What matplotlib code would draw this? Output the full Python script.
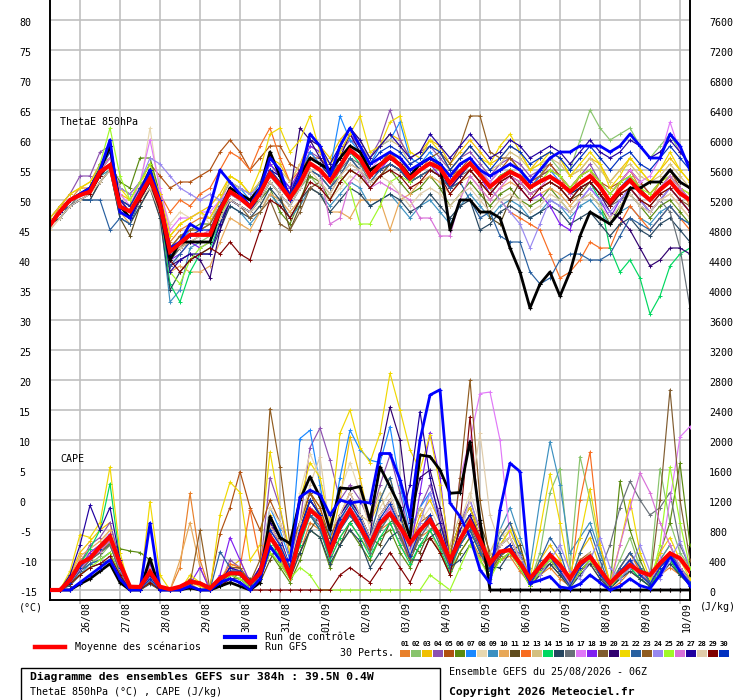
import matplotlib
matplotlib.use('Agg')
import matplotlib.pyplot as plt
import matplotlib.transforms as mtransforms
from matplotlib.lines import Line2D
from matplotlib.patches import Rectangle

plt.rcParams['font.family'] = ['DejaVu Sans Mono', 'DejaVu Sans']

# ---------------- data ----------------
steps = list(range(65))  # 6-hourly steps, 25/08 06Z -> 10/09 06Z
day_steps = [3, 7, 11, 15, 19, 23, 27, 31, 35, 39, 43, 47, 51, 55, 59, 63]
day_labels = ['26/08', '27/08', '28/08', '29/08', '30/08', '31/08', '01/09', '02/09',
              '03/09', '04/09', '05/09', '06/09', '07/09', '08/09', '09/09', '10/09']
theta_ticks = list(range(-15, 81, 5))
cape_ticks = list(range(0, 7601, 400))

member_colors = ['#e8802a', '#88c46c', '#f0c000', '#8c50b0', '#b05010', '#5a8a10',
                 '#1a88ff', '#e8d8b0', '#3c90c0', '#e8a858', '#604c1c', '#f86c20',
                 '#d4c080', '#00d860', '#264660', '#687078', '#e078f8', '#8020f0',
                 '#805c30', '#300070', '#f0d800', '#2860a0', '#905c20', '#9888f0',
                 '#a0f828', '#d870d8', '#2000a0', '#e0ccaa', '#800000', '#0030c0']
member_labels = ['%02d' % i for i in range(1, 31)]

# ThetaE 850hPa (deg C)
theta_mean = [45.8, 48.1, 50, 50.8, 51.4, 54.7, 55.8, 48.9, 48.1, 50.8, 53.6, 49.4, 41.4, 42.8, 44.2, 44.2,
              44.2, 48.3, 51.4, 50.3, 48.9, 51.1, 54.4, 52.5, 50.3, 52.8, 56.1, 55, 53.1, 55.6, 58.3, 56.9,
              54.0, 55.8, 57.2, 55.8, 53.6, 55, 56.1, 55.3, 52.8, 54.7, 56.1, 54.2, 52.2, 53.6, 54.7, 53.9,
              52.1, 53.1, 53.9, 52.8, 51.4, 52.8, 54, 52.2, 49.7, 51.7, 53.3, 51.4, 50, 51.7, 53.1, 51.1, 50]
theta_ctrl = [46, 48, 50, 51, 52, 55, 60, 48, 47, 51, 55, 50, 42, 43, 46, 45,
              49, 55, 53, 51, 49, 52, 57, 55, 50, 54, 61, 59, 54, 59, 62, 59,
              56, 57, 58, 57, 55, 56, 57, 56, 54, 56, 57, 55, 54, 55, 56, 55,
              53, 55, 57, 58, 58, 59, 59, 59, 58, 59, 61, 59, 57, 57, 61, 59, 55]
theta_gfs = [46, 48, 50, 51, 52, 55, 59, 49, 47, 51, 55, 49, 40, 43, 43, 43,
             43, 48, 52, 51, 50, 52, 58, 54, 50, 54, 57, 56, 55, 57, 59, 58,
             55, 56, 57, 56, 54, 56, 57, 56, 45, 50, 50, 48, 48, 47, 42, 38,
             32, 36, 38, 34, 38, 44, 48, 47, 46, 48, 52, 52, 53, 53, 55, 53, 52]

theta_m01 = [46, 49, 50, 52, 52, 56, 58, 50, 49, 52, 55, 50, 43, 45, 46, 47,
             47, 50, 53, 52, 51, 53, 56, 54, 52, 54, 58, 56, 54, 57, 59, 58,
             55, 56, 58, 57, 54, 56, 57, 56, 53, 56, 57, 55, 53, 55, 56, 55,
             52, 54, 55, 54, 51, 54, 55, 52, 49, 53, 55, 52, 50, 53, 54, 52, 49]
theta_m02 = [46, 48, 49, 51, 51, 54, 55, 49, 47, 50, 53, 48, 40, 42, 43, 43,
             44, 47, 50, 49, 48, 51, 55, 53, 50, 52, 54, 52, 50, 53, 55, 54,
             54, 55, 56, 55, 53, 54, 55, 55, 52, 54, 56, 55, 52, 54, 55, 54,
             52, 54, 57, 55, 55, 60, 65, 62, 60, 61, 62, 59, 57, 59, 61, 58, 56]
theta_m03 = [47, 49, 51, 52, 53, 56, 57, 51, 50, 53, 56, 51, 44, 46, 47, 48,
             49, 51, 54, 53, 51, 53, 57, 56, 53, 56, 60, 59, 57, 60, 62, 60,
             57, 59, 61, 60, 57, 58, 60, 59, 56, 58, 60, 58, 56, 57, 59, 58,
             55, 57, 58, 57, 54, 55, 57, 56, 53, 55, 57, 55, 53, 55, 57, 55, 53]
theta_m04 = [47, 49, 51, 54, 54, 58, 59, 50, 48, 52, 55, 50, 41, 43, 44, 44,
             45, 48, 52, 51, 50, 52, 55, 54, 51, 55, 58, 57, 55, 58, 60, 59,
             57, 60, 65, 60, 57, 58, 59, 57, 55, 57, 58, 56, 54, 56, 57, 56,
             54, 55, 56, 54, 52, 54, 56, 53, 51, 53, 55, 53, 51, 53, 55, 53, 52]
theta_m05 = [46, 48, 50, 51, 51, 55, 57, 52, 51, 53, 56, 54, 52, 53, 53, 54,
             55, 58, 60, 58, 55, 57, 59, 59, 56, 55, 57, 57, 55, 56, 58, 57,
             55, 56, 58, 56, 54, 55, 56, 56, 54, 55, 57, 55, 54, 55, 57, 55,
             53, 54, 56, 54, 52, 54, 55, 53, 52, 53, 55, 53, 51, 53, 55, 52, 51]
theta_m06 = [46, 48, 50, 51, 52, 54, 56, 53, 52, 57, 57, 51, 42, 44, 45, 46,
             46, 49, 52, 51, 49, 50, 52, 48, 46, 50, 54, 53, 50, 53, 55, 54,
             52, 54, 55, 53, 51, 52, 54, 52, 49, 51, 53, 51, 49, 51, 52, 50,
             49, 50, 52, 50, 48, 50, 51, 49, 46, 49, 51, 49, 47, 49, 50, 48, 46]
theta_m07 = [46, 48, 50, 51, 52, 55, 57, 50, 49, 52, 55, 50, 41, 43, 45, 45,
             46, 50, 53, 52, 50, 53, 56, 54, 52, 54, 58, 56, 55, 64, 60, 58,
             56, 59, 60, 63, 57, 56, 58, 56, 54, 56, 57, 55, 53, 55, 56, 55,
             52, 54, 55, 53, 51, 53, 54, 52, 50, 52, 54, 52, 50, 52, 54, 52, 50]
theta_m08 = [45, 47, 49, 51, 52, 54, 56, 50, 48, 52, 62, 51, 46, 48, 47, 48,
             46, 48, 50, 49, 48, 49, 51, 50, 48, 50, 52, 51, 50, 52, 54, 53,
             54, 56, 57, 56, 54, 55, 56, 55, 53, 54, 56, 54, 52, 54, 55, 54,
             52, 53, 54, 53, 51, 52, 54, 52, 50, 52, 53, 51, 50, 52, 53, 51, 50]
theta_m09 = [46, 47, 49, 50, 51, 54, 55, 48, 47, 50, 53, 48, 33, 35, 42, 43,
             43, 46, 49, 48, 46, 48, 51, 49, 47, 49, 52, 51, 49, 51, 53, 52,
             49, 50, 51, 49, 47, 49, 50, 48, 46, 49, 51, 49, 47, 49, 50, 49,
             47, 48, 50, 49, 47, 49, 50, 48, 46, 48, 49, 47, 46, 48, 49, 47, 46]
theta_m10 = [46, 48, 49, 50, 51, 53, 55, 48, 46, 49, 52, 47, 38, 39, 38, 38,
             39, 43, 47, 46, 45, 48, 51, 50, 48, 50, 52, 51, 48, 48, 47, 50,
             50, 50, 45, 50, 51, 53, 54, 53, 51, 53, 54, 52, 50, 52, 53, 52,
             50, 51, 52, 51, 49, 51, 53, 51, 49, 51, 52, 50, 48, 50, 51, 49, 47]
theta_m11 = [46, 47, 49, 50, 50, 53, 55, 47, 44, 49, 52, 48, 40, 42, 43, 44,
             44, 47, 50, 49, 48, 50, 53, 51, 45, 49, 55, 54, 52, 54, 57, 55,
             53, 54, 56, 55, 53, 54, 55, 54, 52, 53, 55, 53, 47, 46, 50, 53,
             51, 52, 53, 52, 50, 51, 53, 51, 49, 51, 52, 50, 48, 50, 52, 50, 48]
theta_m12 = [46, 48, 50, 51, 52, 55, 56, 50, 49, 52, 55, 51, 48, 50, 49, 51,
             52, 55, 58, 57, 55, 59, 62, 57, 53, 55, 57, 56, 54, 56, 59, 57,
             55, 56, 58, 56, 54, 55, 57, 55, 53, 55, 56, 54, 52, 50, 48, 47,
             46, 45, 41, 37, 38, 40, 43, 42, 42, 46, 49, 47, 45, 47, 49, 47, 45]
theta_m13 = [46, 48, 50, 51, 52, 54, 56, 49, 48, 51, 53, 49, 42, 44, 45, 45,
             46, 50, 53, 52, 51, 53, 57, 55, 53, 56, 59, 58, 56, 58, 61, 59,
             57, 59, 60, 59, 56, 57, 59, 58, 55, 57, 59, 57, 55, 56, 58, 57,
             55, 56, 57, 56, 54, 55, 57, 55, 53, 55, 56, 54, 53, 54, 56, 54, 52]
theta_m14 = [46, 48, 50, 51, 51, 55, 57, 50, 48, 51, 54, 49, 36, 33, 38, 41,
             42, 46, 50, 49, 48, 51, 54, 52, 50, 53, 56, 55, 53, 56, 58, 56,
             54, 56, 57, 56, 54, 55, 56, 55, 53, 55, 56, 54, 52, 54, 55, 54,
             52, 53, 54, 53, 51, 52, 53, 50, 42, 38, 40, 37, 31, 34, 39, 41, 42]
theta_m15 = [46, 47, 49, 50, 50, 53, 55, 47, 46, 49, 52, 47, 35, 38, 40, 41,
             41, 45, 49, 48, 47, 49, 52, 50, 47, 50, 52, 51, 48, 50, 52, 51,
             49, 50, 51, 50, 48, 49, 51, 49, 47, 49, 50, 45, 46, 48, 49, 48,
             47, 48, 49, 48, 46, 47, 48, 46, 44, 46, 47, 45, 44, 46, 47, 45, 43]
theta_m16 = [46, 48, 49, 51, 51, 54, 56, 49, 47, 50, 53, 49, 40, 42, 43, 43,
             43, 47, 50, 49, 48, 50, 53, 51, 49, 52, 55, 54, 52, 55, 57, 56,
             53, 55, 56, 55, 53, 54, 55, 54, 52, 54, 55, 53, 51, 53, 54, 53,
             51, 52, 53, 52, 50, 52, 53, 51, 49, 50, 51, 49, 48, 50, 48, 42, 32]
theta_m17 = [46, 48, 50, 51, 52, 55, 57, 51, 49, 53, 60, 52, 45, 47, 47, 48,
             48, 50, 52, 51, 50, 52, 55, 53, 51, 54, 57, 56, 54, 57, 59, 57,
             55, 57, 58, 57, 55, 56, 57, 56, 54, 56, 57, 55, 53, 55, 56, 55,
             53, 54, 55, 54, 52, 54, 55, 53, 51, 53, 55, 53, 54, 57, 63, 58, 56]
theta_m18 = [46, 48, 50, 51, 52, 56, 58, 50, 48, 52, 55, 49, 40, 41, 43, 42,
             43, 47, 51, 50, 49, 52, 56, 54, 52, 55, 59, 58, 55, 58, 61, 59,
             54, 55, 57, 56, 53, 55, 56, 54, 52, 54, 56, 54, 51, 53, 54, 52,
             50, 51, 49, 46, 45, 50, 52, 50, 47, 50, 52, 50, 48, 50, 52, 50, 48]
theta_m19 = [46, 48, 50, 51, 51, 54, 56, 49, 47, 51, 53, 48, 41, 42, 44, 44,
             44, 48, 50, 49, 47, 48, 50, 46, 45, 48, 52, 53, 51, 54, 56, 55,
             52, 54, 56, 55, 53, 54, 55, 54, 52, 53, 55, 53, 51, 53, 54, 53,
             51, 52, 53, 52, 50, 52, 53, 51, 49, 51, 52, 50, 49, 51, 52, 50, 49]
theta_m20 = [46, 48, 49, 50, 51, 54, 56, 48, 47, 50, 53, 48, 39, 40, 41, 40,
             37, 45, 50, 49, 48, 51, 55, 53, 51, 62, 60, 57, 54, 57, 61, 58,
             54, 55, 56, 55, 53, 55, 56, 55, 52, 54, 56, 54, 52, 54, 55, 54,
             52, 53, 54, 53, 51, 52, 53, 51, 48, 47, 45, 42, 39, 40, 42, 42, 41]
theta_m21 = [47, 49, 51, 52, 53, 55, 57, 52, 50, 53, 55, 51, 44, 46, 47, 48,
             47, 50, 54, 53, 51, 55, 61, 62, 58, 60, 64, 58, 56, 58, 61, 64,
             58, 59, 63, 64, 58, 57, 60, 58, 55, 57, 59, 57, 56, 59, 61, 58,
             55, 56, 58, 57, 54, 56, 58, 56, 52, 54, 57, 55, 53, 55, 58, 55, 53]
theta_m22 = [46, 48, 49, 50, 50, 50, 45, 47, 46, 50, 53, 48, 39, 41, 43, 43,
             43, 47, 50, 49, 48, 50, 53, 51, 49, 52, 55, 54, 52, 54, 57, 55,
             53, 55, 56, 55, 53, 54, 55, 54, 52, 53, 50, 47, 48, 44, 43, 43,
             38, 36, 37, 40, 41, 41, 40, 40, 41, 44, 47, 46, 45, 47, 49, 47, 46]
theta_m23 = [46, 48, 50, 51, 52, 55, 57, 50, 49, 52, 55, 50, 42, 44, 45, 45,
             46, 49, 52, 51, 50, 52, 55, 53, 51, 54, 57, 56, 54, 56, 58, 57,
             55, 56, 58, 57, 55, 56, 57, 58, 56, 59, 64, 64, 58, 57, 57, 55,
             53, 54, 55, 54, 52, 54, 55, 53, 51, 53, 54, 52, 50, 52, 54, 52, 50]
theta_m24 = [46, 48, 50, 51, 52, 55, 57, 52, 51, 53, 57, 56, 54, 52, 51, 50,
             51, 50, 51, 52, 51, 52, 55, 53, 51, 53, 56, 55, 53, 56, 58, 57,
             54, 56, 57, 56, 54, 55, 56, 55, 53, 55, 56, 54, 52, 50, 48, 46,
             42, 46, 50, 49, 48, 50, 52, 50, 48, 50, 52, 50, 48, 50, 52, 50, 48]
theta_m25 = [46, 48, 50, 51, 52, 56, 62, 54, 50, 53, 56, 50, 38, 36, 40, 42,
             43, 47, 51, 50, 49, 51, 54, 52, 50, 53, 56, 55, 53, 54, 52, 46,
             46, 49, 53, 54, 53, 55, 56, 55, 53, 55, 56, 54, 52, 54, 55, 54,
             52, 53, 55, 54, 52, 54, 55, 53, 51, 53, 54, 52, 51, 53, 54, 52, 51]
theta_m26 = [46, 48, 50, 51, 52, 55, 57, 50, 48, 52, 55, 50, 42, 43, 44, 44,
             45, 48, 51, 50, 49, 51, 54, 52, 50, 53, 56, 55, 46, 47, 53, 55,
             52, 53, 52, 51, 50, 47, 47, 44, 44, 50, 54, 52, 50, 52, 54, 53,
             51, 52, 54, 53, 51, 53, 54, 52, 50, 52, 53, 51, 50, 52, 54, 52, 50]
theta_m27 = [46, 48, 50, 51, 52, 55, 59, 50, 48, 51, 54, 49, 38, 40, 41, 41,
             41, 46, 50, 49, 48, 51, 55, 54, 51, 55, 60, 59, 56, 59, 62, 60,
             57, 59, 61, 59, 57, 58, 61, 59, 57, 59, 61, 59, 57, 58, 60, 59,
             57, 58, 59, 58, 56, 58, 60, 58, 57, 58, 60, 59, 57, 58, 60, 58, 56]
theta_m28 = [45, 47, 49, 50, 51, 53, 55, 48, 47, 50, 52, 48, 41, 42, 43, 44,
             44, 47, 50, 49, 48, 50, 53, 51, 49, 52, 55, 53, 51, 54, 56, 55,
             53, 54, 53, 51, 49, 51, 52, 51, 49, 51, 52, 50, 48, 50, 51, 50,
             48, 49, 51, 50, 48, 50, 51, 49, 47, 49, 51, 49, 48, 50, 51, 49, 47]
theta_m29 = [46, 48, 50, 51, 51, 54, 56, 49, 47, 50, 53, 48, 40, 38, 40, 41,
             42, 41, 43, 41, 40, 45, 50, 49, 47, 50, 53, 52, 50, 53, 55, 54,
             52, 54, 55, 54, 52, 53, 55, 54, 51, 53, 55, 53, 51, 53, 54, 52,
             50, 52, 53, 52, 50, 52, 53, 51, 49, 51, 52, 50, 49, 51, 52, 50, 48]
theta_m30 = [46, 48, 50, 51, 52, 55, 58, 50, 49, 52, 55, 50, 41, 43, 44, 45,
             45, 49, 52, 51, 50, 52, 55, 53, 51, 54, 57, 56, 54, 57, 59, 58,
             56, 58, 59, 58, 56, 57, 59, 58, 55, 57, 59, 57, 55, 57, 59, 58,
             56, 57, 58, 57, 55, 57, 59, 57, 55, 57, 58, 56, 55, 57, 59, 57, 55]

# CAPE (J/kg)
cape_mean = [0, 0, 133, 356, 422, 578, 711, 356, 44, 40, 244, 44, 10, 44, 111, 89,
             22, 155, 222, 222, 89, 222, 711, 511, 200, 711, 1067, 956, 511, 844, 1067, 844,
             600, 889, 1022, 844, 622, 800, 933, 711, 400, 667, 911, 667, 356, 511, 533, 356,
             155, 311, 467, 333, 155, 356, 444, 267, 89, 222, 333, 244, 200, 356, 489, 422, 244]
cape_ctrl = [0, 0, 0, 100, 200, 300, 400, 150, 0, 0, 890, 0, 0, 0, 50, 0,
             0, 100, 150, 100, 0, 150, 580, 400, 400, 1240, 1330, 1270, 1000, 1200, 1160, 1180,
             1160, 1820, 1820, 1470, 980, 2000, 2600, 2670, 1160, 980, 710, 270, 90, 1070, 1690, 1580,
             90, 130, 180, 40, 20, 80, 200, 100, 0, 50, 150, 60, 20, 200, 450, 250, 60]
cape_gfs = [0, 0, 0, 80, 150, 250, 350, 100, 0, 0, 420, 0, 0, 0, 30, 0,
            0, 50, 100, 50, 0, 100, 980, 700, 620, 1200, 1510, 1240, 800, 1360, 1350, 1380,
            930, 1640, 1380, 1110, 700, 1800, 1780, 1600, 1290, 1300, 1980, 930, 0, 0, 0, 0,
            0, 0, 0, 0, 0, 0, 0, 0, 0, 0, 0, 0, 0, 0, 0, 0, 0]

cape_m01 = [0, 0, 120, 400, 500, 600, 700, 250, 0, 0, 150, 0, 0, 300, 1290, 400,
            0, 60, 200, 300, 100, 150, 600, 400, 150, 500, 900, 800, 400, 700, 900, 700,
            500, 800, 900, 600, 400, 700, 800, 500, 250, 500, 700, 450, 250, 400, 450, 250,
            80, 200, 300, 150, 50, 250, 350, 150, 0, 100, 250, 150, 50, 200, 300, 200, 100]
cape_m02 = [0, 0, 80, 250, 350, 450, 600, 300, 0, 0, 100, 0, 0, 0, 50, 0,
            0, 100, 250, 200, 50, 200, 700, 400, 200, 600, 1100, 1000, 500, 900, 1200, 900,
            600, 900, 1000, 700, 500, 800, 900, 700, 300, 700, 1000, 600, 300, 600, 800, 500,
            100, 500, 1300, 1620, 300, 1780, 1200, 500, 100, 400, 700, 300, 200, 1620, 900, 500, 300]
cape_m03 = [0, 0, 200, 500, 650, 800, 900, 300, 0, 0, 200, 0, 0, 0, 100, 50,
            0, 100, 300, 400, 100, 300, 1000, 700, 300, 800, 1300, 1100, 600, 1200, 2040, 1500,
            900, 1200, 1500, 1000, 600, 1000, 1200, 900, 500, 900, 1100, 800, 400, 700, 900, 600,
            150, 400, 600, 400, 100, 500, 700, 300, 50, 300, 500, 250, 100, 400, 600, 300, 150]
cape_m04 = [0, 0, 100, 350, 600, 700, 900, 400, 0, 0, 300, 0, 0, 0, 80, 0,
            0, 80, 400, 300, 100, 250, 1500, 1100, 400, 900, 1900, 2160, 1730, 1200, 1400, 1200,
            900, 1400, 1800, 1300, 700, 1100, 1400, 1000, 500, 900, 1200, 800, 300, 600, 700, 400,
            80, 300, 500, 300, 50, 300, 500, 200, 0, 200, 400, 200, 80, 300, 500, 250, 100]
cape_m05 = [0, 0, 150, 300, 450, 500, 650, 200, 0, 0, 200, 0, 0, 0, 150, 100,
            50, 750, 1100, 1580, 1100, 800, 1200, 900, 500, 900, 1300, 1100, 700, 1000, 1300, 1000,
            700, 1000, 1200, 900, 600, 900, 1000, 700, 400, 800, 1000, 700, 400, 600, 700, 400,
            100, 300, 500, 300, 100, 400, 500, 250, 50, 200, 400, 200, 100, 300, 450, 250, 100]
cape_m06 = [0, 0, 100, 300, 400, 500, 620, 550, 520, 500, 400, 0, 0, 0, 50, 0,
            0, 50, 200, 150, 50, 150, 500, 300, 100, 400, 800, 700, 300, 600, 800, 600,
            400, 700, 800, 500, 300, 600, 700, 500, 200, 500, 700, 400, 200, 400, 500, 300,
            50, 300, 400, 250, 50, 300, 450, 200, 50, 1450, 800, 400, 100, 500, 900, 1690, 600]
cape_m07 = [0, 0, 100, 300, 450, 550, 700, 300, 0, 0, 250, 0, 0, 0, 60, 0,
            0, 100, 300, 250, 80, 300, 1100, 800, 400, 2020, 2130, 1400, 700, 1500, 2130, 1870,
            1730, 1700, 2180, 1400, 800, 1100, 1300, 900, 400, 800, 1000, 600, 300, 500, 600, 400,
            100, 300, 500, 300, 80, 300, 500, 250, 50, 250, 400, 200, 80, 300, 500, 250, 100]
cape_m08 = [0, 0, 150, 350, 500, 600, 800, 350, 0, 0, 300, 0, 0, 0, 100, 0,
            0, 150, 350, 300, 100, 300, 1100, 900, 500, 1300, 1820, 1500, 800, 1300, 1700, 1300,
            800, 1100, 1300, 900, 500, 900, 1100, 800, 400, 900, 1300, 900, 500, 700, 800, 500,
            100, 300, 400, 250, 50, 300, 450, 200, 50, 200, 350, 200, 80, 300, 450, 250, 100]
cape_m09 = [0, 0, 80, 200, 350, 400, 500, 200, 0, 0, 100, 0, 0, 0, 40, 0,
            0, 80, 250, 200, 50, 200, 700, 500, 250, 600, 1000, 900, 500, 800, 1000, 800,
            500, 800, 1000, 700, 400, 700, 900, 600, 300, 700, 900, 600, 300, 800, 1100, 700,
            300, 1200, 1980, 1400, 500, 700, 900, 500, 100, 300, 500, 300, 100, 400, 600, 300, 150]
cape_m10 = [0, 0, 180, 450, 550, 650, 800, 300, 0, 0, 180, 0, 0, 400, 900, 300,
            0, 100, 250, 300, 100, 200, 700, 500, 250, 700, 1100, 900, 500, 900, 1100, 900,
            600, 900, 1100, 800, 500, 800, 1000, 700, 300, 600, 800, 500, 250, 500, 600, 350,
            80, 250, 400, 250, 50, 250, 400, 200, 30, 200, 350, 200, 80, 250, 400, 200, 80]
cape_m11 = [0, 0, 100, 250, 400, 500, 600, 250, 0, 0, 120, 0, 0, 0, 30, 0,
            0, 60, 100, 250, 150, 100, 400, 650, 300, 500, 800, 1000, 700, 600, 900, 1000,
            700, 600, 900, 1000, 600, 500, 800, 900, 500, 600, 800, 900, 500, 400, 500, 600,
            80, 250, 350, 200, 40, 250, 400, 200, 30, 150, 300, 150, 50, 250, 400, 200, 80]
cape_m12 = [0, 0, 120, 350, 450, 550, 700, 300, 0, 0, 200, 0, 0, 0, 80, 0,
            0, 120, 350, 300, 1070, 400, 900, 600, 300, 700, 1200, 1000, 600, 900, 1100, 900,
            600, 900, 1100, 800, 450, 800, 1000, 700, 350, 700, 900, 600, 300, 500, 600, 350,
            80, 300, 450, 250, 50, 1200, 1840, 600, 80, 300, 500, 250, 80, 300, 450, 250, 100]
cape_m13 = [0, 0, 100, 300, 450, 550, 650, 300, 0, 0, 150, 0, 0, 0, 60, 0,
            0, 80, 250, 250, 80, 250, 800, 600, 300, 800, 1200, 1000, 600, 1000, 1200, 1000,
            900, 1300, 900, 600, 700, 1100, 800, 500, 600, 1000, 700, 400, 500, 800, 600, 300,
            100, 300, 450, 300, 80, 350, 500, 250, 50, 250, 400, 250, 100, 350, 500, 300, 120]
cape_m14 = [0, 0, 150, 350, 550, 800, 1420, 400, 0, 0, 200, 0, 0, 0, 60, 0,
            0, 60, 200, 200, 50, 200, 600, 450, 200, 600, 1000, 800, 400, 700, 900, 700,
            450, 700, 900, 600, 350, 600, 800, 550, 250, 600, 800, 500, 250, 450, 550, 300,
            60, 250, 400, 250, 40, 250, 400, 200, 20, 150, 300, 150, 50, 250, 400, 200, 80]
cape_m15 = [0, 0, 60, 200, 300, 350, 400, 150, 0, 0, 80, 0, 0, 0, 20, 0,
            0, 50, 150, 150, 30, 150, 500, 350, 150, 500, 800, 700, 350, 600, 800, 650,
            300, 500, 700, 800, 400, 400, 700, 800, 300, 400, 600, 700, 300, 300, 500, 500,
            50, 200, 350, 200, 30, 200, 350, 150, 20, 150, 250, 150, 50, 200, 350, 200, 60]
cape_m16 = [0, 0, 100, 250, 400, 500, 600, 250, 0, 0, 120, 0, 0, 0, 40, 0,
            0, 70, 220, 200, 60, 200, 700, 500, 250, 650, 1000, 850, 450, 800, 1000, 800,
            500, 800, 1000, 700, 400, 700, 900, 600, 300, 600, 800, 500, 250, 450, 550, 300,
            60, 250, 400, 250, 50, 300, 450, 250, 600, 1100, 1450, 1200, 1000, 1100, 1300, 600, 300]
cape_m17 = [0, 0, 120, 300, 450, 550, 700, 300, 0, 0, 180, 0, 0, 0, 60, 0,
            0, 100, 300, 250, 80, 250, 800, 600, 300, 700, 1100, 900, 500, 900, 1100, 900,
            600, 900, 1100, 800, 450, 800, 1000, 700, 350, 1500, 2000, 2620, 2640, 2000, 700, 400,
            80, 300, 450, 300, 60, 300, 450, 250, 50, 250, 400, 250, 80, 400, 1200, 2040, 2180]
cape_m18 = [0, 0, 100, 300, 500, 600, 750, 350, 0, 0, 350, 0, 0, 0, 80, 300,
            0, 200, 700, 400, 100, 300, 900, 700, 300, 800, 1200, 1000, 500, 900, 1100, 900,
            600, 900, 1100, 800, 500, 1300, 2100, 1500, 400, 700, 900, 600, 300, 500, 600, 350,
            80, 300, 450, 250, 50, 300, 450, 200, 50, 250, 400, 200, 80, 300, 450, 250, 100]
cape_m19 = [0, 0, 100, 280, 420, 520, 650, 280, 0, 0, 150, 0, 0, 0, 50, 0,
            0, 70, 220, 220, 60, 220, 750, 550, 250, 700, 1100, 900, 500, 850, 1050, 850,
            550, 850, 1000, 750, 400, 750, 950, 650, 300, 650, 850, 550, 250, 450, 550, 300,
            60, 250, 400, 250, 40, 250, 400, 200, 30, 200, 350, 200, 100, 1200, 2670, 1200, 400]
cape_m20 = [0, 0, 100, 300, 450, 550, 700, 300, 0, 0, 150, 0, 0, 0, 50, 0,
            0, 80, 250, 250, 70, 250, 850, 650, 300, 800, 1200, 1000, 550, 1000, 1200, 1000,
            700, 1800, 2440, 2000, 900, 1500, 1600, 1100, 500, 900, 1100, 700, 300, 500, 600, 350,
            60, 250, 400, 250, 40, 250, 400, 200, 30, 200, 350, 200, 80, 300, 450, 250, 100]
cape_m21 = [0, 0, 250, 740, 700, 900, 1640, 500, 0, 0, 1180, 200, 0, 0, 200, 100,
            0, 1000, 1440, 1300, 400, 600, 1840, 1100, 500, 1200, 1700, 1500, 900, 2090, 2400, 1900,
            1700, 2090, 2890, 2400, 1870, 1600, 2070, 1400, 500, 900, 1100, 700, 300, 600, 800, 500,
            150, 800, 1550, 900, 200, 700, 1350, 600, 100, 600, 1200, 500, 150, 500, 700, 400, 150]
cape_m22 = [0, 0, 80, 250, 350, 400, 500, 200, 0, 0, 120, 0, 0, 0, 40, 0,
            0, 510, 300, 200, 50, 200, 700, 500, 250, 700, 1000, 800, 450, 800, 1000, 800,
            700, 1200, 1500, 1000, 500, 800, 1000, 700, 300, 600, 800, 500, 250, 700, 900, 500,
            100, 400, 700, 500, 100, 500, 800, 400, 50, 300, 500, 300, 100, 300, 500, 300, 100]
cape_m23 = [0, 0, 120, 300, 450, 550, 650, 300, 0, 0, 200, 0, 0, 0, 80, 800,
            0, 100, 300, 300, 100, 400, 2420, 1640, 600, 900, 1300, 1000, 500, 900, 1100, 900,
            600, 900, 1100, 800, 450, 800, 1000, 700, 350, 1500, 2800, 1200, 400, 600, 700, 400,
            80, 300, 450, 250, 50, 300, 450, 200, 50, 250, 400, 200, 80, 300, 450, 250, 100]
cape_m24 = [0, 0, 100, 300, 450, 550, 700, 300, 0, 0, 200, 0, 0, 0, 60, 0,
            0, 100, 300, 250, 80, 250, 800, 600, 300, 800, 1100, 900, 500, 900, 1100, 900,
            600, 900, 1100, 800, 500, 900, 1300, 900, 400, 800, 1200, 800, 350, 600, 700, 450,
            200, 200, 400, 600, 250, 150, 400, 700, 300, 150, 300, 600, 250, 150, 400, 650, 300]
cape_m25 = [0, 0, 80, 200, 300, 400, 500, 200, 0, 0, 100, 0, 0, 0, 30, 0,
            0, 60, 200, 150, 40, 150, 500, 350, 150, 300, 200, 0, 0, 0, 0, 0,
            0, 0, 0, 0, 0, 0, 200, 100, 0, 300, 600, 400, 150, 400, 500, 300,
            50, 250, 400, 250, 40, 250, 400, 200, 30, 200, 350, 200, 80, 600, 1640, 900, 300]
cape_m26 = [0, 0, 100, 280, 420, 520, 650, 280, 0, 0, 150, 0, 0, 0, 50, 0,
            0, 80, 250, 250, 70, 250, 800, 600, 300, 750, 1100, 900, 500, 900, 1100, 900,
            600, 900, 1100, 800, 450, 800, 1000, 700, 350, 700, 900, 600, 300, 500, 600, 350,
            80, 300, 450, 300, 60, 300, 450, 250, 50, 600, 1100, 1560, 1300, 900, 600, 300, 100]
cape_m27 = [0, 0, 200, 600, 1130, 800, 1100, 400, 0, 0, 200, 0, 0, 0, 60, 0,
            0, 100, 300, 250, 80, 300, 900, 700, 300, 800, 1200, 1000, 600, 1000, 1200, 1000,
            700, 1000, 1200, 900, 1400, 2380, 1500, 900, 400, 800, 1000, 700, 300, 500, 600, 350,
            80, 300, 450, 250, 50, 300, 450, 200, 50, 250, 400, 200, 80, 300, 450, 250, 100]
cape_m28 = [0, 0, 100, 300, 450, 550, 700, 300, 0, 0, 150, 0, 0, 0, 60, 0,
            0, 80, 250, 250, 70, 250, 850, 650, 300, 900, 1400, 1780, 800, 1000, 1300, 1000,
            700, 1000, 1200, 900, 500, 800, 1000, 700, 350, 700, 1200, 2090, 1000, 600, 700, 400,
            80, 300, 450, 250, 50, 300, 450, 200, 50, 250, 400, 200, 80, 300, 450, 250, 100]
cape_m29 = [0, 0, 80, 200, 300, 350, 450, 200, 0, 0, 100, 0, 0, 0, 30, 0,
            0, 50, 150, 100, 0, 0, 0, 0, 0, 0, 0, 0, 0, 200, 300, 200,
            100, 300, 500, 300, 100, 400, 700, 500, 200, 900, 2310, 800, 0, 0, 0, 0,
            0, 0, 0, 0, 0, 0, 0, 0, 0, 0, 0, 0, 0, 0, 0, 0, 0]
cape_m30 = [0, 0, 100, 300, 450, 550, 700, 300, 0, 0, 150, 0, 0, 0, 50, 0,
            0, 80, 250, 250, 70, 250, 800, 600, 300, 800, 1200, 1000, 550, 950, 1150, 950,
            650, 950, 1150, 850, 450, 800, 1000, 700, 350, 700, 900, 600, 300, 500, 600, 350,
            80, 300, 450, 250, 50, 300, 450, 200, 50, 250, 400, 200, 80, 300, 450, 250, 100]

theta_members = [theta_m01, theta_m02, theta_m03, theta_m04, theta_m05, theta_m06, theta_m07,
                 theta_m08, theta_m09, theta_m10, theta_m11, theta_m12, theta_m13, theta_m14,
                 theta_m15, theta_m16, theta_m17, theta_m18, theta_m19, theta_m20, theta_m21,
                 theta_m22, theta_m23, theta_m24, theta_m25, theta_m26, theta_m27, theta_m28,
                 theta_m29, theta_m30]
cape_members = [cape_m01, cape_m02, cape_m03, cape_m04, cape_m05, cape_m06, cape_m07,
                cape_m08, cape_m09, cape_m10, cape_m11, cape_m12, cape_m13, cape_m14,
                cape_m15, cape_m16, cape_m17, cape_m18, cape_m19, cape_m20, cape_m21,
                cape_m22, cape_m23, cape_m24, cape_m25, cape_m26, cape_m27, cape_m28,
                cape_m29, cape_m30]

# ---------------- layout ----------------
W, H = 740, 700
DPI = 100
FS = 7.2        # monospace ~6 px per char
FSB = 8.2

def fx(x):
    return x / W

def fy(y):
    return 1 - y / H

fig = plt.figure(figsize=(W / DPI, H / DPI), dpi=DPI)
fig.patch.set_facecolor('white')

T_LO = -15 - 10 / 6.0   # axis bottom (pixel 600)
T_HI = 80 + 20 / 6.0    # figure top (pixel 0)
ax = fig.add_axes([fx(50), fy(600), (690 - 50) / W, 600 / H])
ax.set_xlim(0, 64)
ax.set_ylim(T_LO, T_HI)
ax.set_xticks(day_steps)
ax.set_yticks(theta_ticks)
ax.tick_params(axis='x', length=3, width=1.2, color='#c0c0c0', labelbottom=False, direction='out')
ax.tick_params(axis='y', length=0, labelleft=False)
ax.grid(True, color='#c0c0c0', lw=1.2)
ax.set_axisbelow(True)
for s in ['left', 'right', 'bottom']:
    ax.spines[s].set_color('black')
    ax.spines[s].set_linewidth(1.4)
ax.spines['top'].set_visible(False)

ax2 = ax.twinx()
ax2.set_ylim((T_LO + 15) * 80, (T_HI + 15) * 80)
ax2.set_yticks(cape_ticks)
ax2.tick_params(axis='y', length=0, labelright=False)
for s in ax2.spines.values():
    s.set_visible(False)

# ---------------- lines ----------------
mk = dict(marker='+', ms=3.2, mew=0.7)
for vals, c in zip(theta_members, member_colors):
    ax.plot(steps, vals, color=c, lw=0.85, **mk)
for vals, c in zip(cape_members, member_colors):
    ax2.plot(steps, vals, color=c, lw=0.85, **mk)

ax.plot(steps, theta_gfs, color='black', lw=2.0, marker='+', ms=3.2, mew=0.8)
ax2.plot(steps, cape_gfs, color='black', lw=2.0, marker='+', ms=3.2, mew=0.8)
ax.plot(steps, theta_ctrl, color='#0000ff', lw=2.0, marker='+', ms=3.2, mew=0.8)
ax2.plot(steps, cape_ctrl, color='#0000ff', lw=2.0, marker='+', ms=3.2, mew=0.8)
ax.plot(steps, theta_mean, color='#ff0000', lw=3.0, solid_joinstyle='miter')
ax2.plot(steps, cape_mean, color='#ff0000', lw=3.0, solid_joinstyle='miter')

# ---------------- tick labels ----------------
off_lab = mtransforms.ScaledTranslation(0, -3 / DPI, fig.dpi_scale_trans)
tl = mtransforms.blended_transform_factory(fig.transFigure, ax.transData) + off_lab
for v in theta_ticks:
    fig.text(fx(19), v, str(v), transform=tl, ha='left', va='center', fontsize=FS)
tr = mtransforms.blended_transform_factory(fig.transFigure, ax2.transData) + off_lab
for v in cape_ticks:
    fig.text(fx(709), v, str(v), transform=tr, ha='left', va='center', fontsize=FS)

tb = mtransforms.blended_transform_factory(ax.transData, ax.transAxes) + \
    mtransforms.ScaledTranslation(1.5 / DPI, -1.5 / DPI, fig.dpi_scale_trans)
for s, lab in zip(day_steps, day_labels):
    ax.text(s, 0, lab, transform=tb, rotation=90, ha='left', va='top', fontsize=FS)

fig.text(fx(19), fy(607), '(°C)', ha='left', va='center', fontsize=FS)
fig.text(fx(700), fy(607), '(J/kg)', ha='left', va='center', fontsize=FS)

fig.text(fx(60), fy(122), 'ThetaE 850hPa', ha='left', va='center', fontsize=FS)
fig.text(fx(60), fy(459), 'CAPE', ha='left', va='center', fontsize=FS)

# ---------------- legend ----------------
fig.add_artist(Line2D([fx(35), fx(65)], [fy(647), fy(647)], color='#ff0000', lw=3.2,
                      transform=fig.transFigure))
fig.text(fx(75), fy(647), 'Moyenne des scénarios', ha='left', va='center', fontsize=FS)
fig.add_artist(Line2D([fx(225), fx(255)], [fy(637), fy(637)], color='#0000ff', lw=3.0,
                      transform=fig.transFigure))
fig.text(fx(265), fy(637), 'Run de contrôle', ha='left', va='center', fontsize=FS)
fig.add_artist(Line2D([fx(225), fx(255)], [fy(647), fy(647)], color='black', lw=3.0,
                      transform=fig.transFigure))
fig.text(fx(265), fy(647), 'Run GFS', ha='left', va='center', fontsize=FS)
fig.text(fx(340), fy(653), '30 Perts.', ha='left', va='center', fontsize=FS)
for i, (c, lab) in enumerate(zip(member_colors, member_labels)):
    x0 = 400 + 11 * i
    fig.add_artist(Rectangle((fx(x0), fy(656.5)), 9.8 / W, 7 / H, facecolor=c, edgecolor='none',
                             transform=fig.transFigure))
    fig.text(fx(x0 + 4.9), fy(643.5), lab, ha='center', va='center', fontsize=5.2,
             fontweight='bold')

# ---------------- footer ----------------
fig.add_artist(Rectangle((fx(20.5), fy(706)), 419.5 / W, 38.5 / H, facecolor='none',
                         edgecolor='black', lw=1.0, transform=fig.transFigure))
fig.text(fx(30), fy(677), 'Diagramme des ensembles GEFS sur 384h : 39.5N 0.4W', ha='left',
         va='center', fontsize=FSB, fontweight='bold')
fig.text(fx(30), fy(692), 'ThetaE 850hPa (°C) , CAPE (J/kg)', ha='left', va='center', fontsize=FS)
fig.text(fx(449), fy(672), 'Ensemble GEFS du 25/08/2026 - 06Z', ha='left', va='center', fontsize=FS)
fig.text(fx(449), fy(692), 'Copyright 2026 Meteociel.fr', ha='left', va='center', fontsize=FSB,
         fontweight='bold')

fig.savefig('out.png', dpi=DPI)
